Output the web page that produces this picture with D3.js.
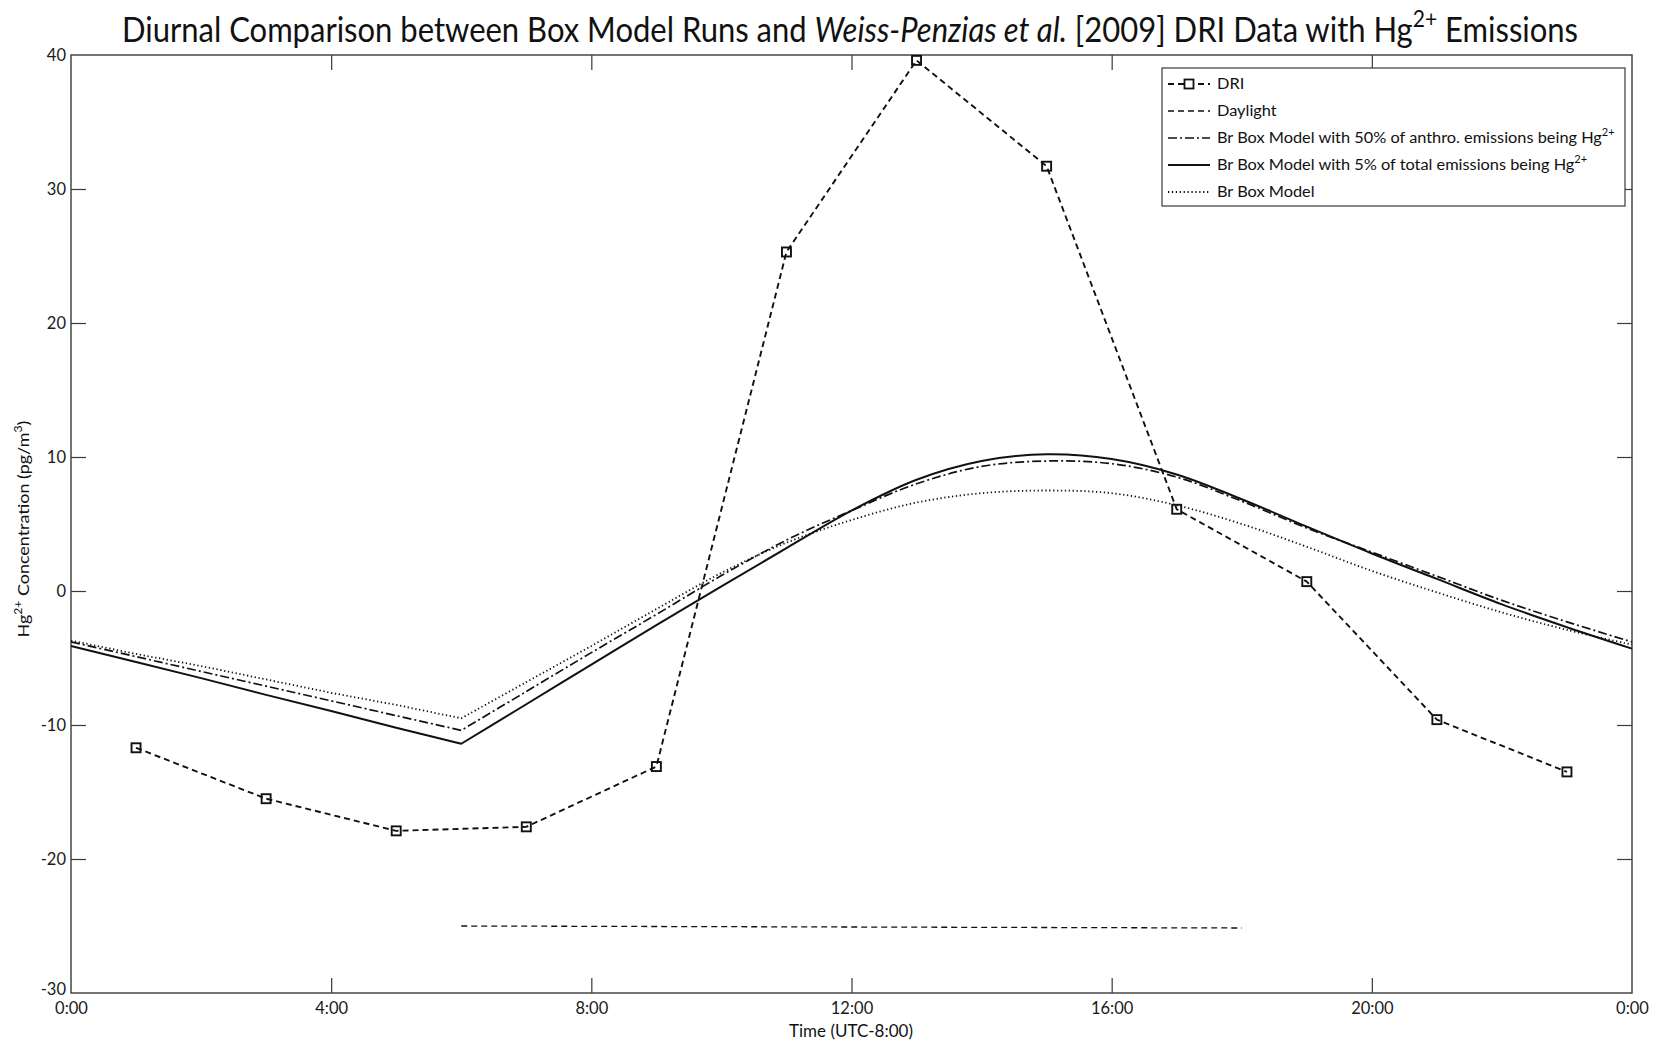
<!DOCTYPE html>
<html>
<head>
<meta charset="utf-8">
<script src="https://cdn.jsdelivr.net/npm/d3@7/dist/d3.min.js"></script>
<style>
  html, body { margin: 0; padding: 0; background: #fff; }
  svg { display: block; }
</style>
</head>
<body>
<svg id="chart" width="1659" height="1045"></svg>
<script>
// ---- data ----
const driHours  = [1, 3, 5, 7, 9, 11, 13, 15, 17, 19, 21, 23];
const driValues = [-11.7, -15.5, -17.9, -17.6, -13.1, 25.3, 39.6, 31.7, 6.1, 0.7, -9.6, -13.5];

const daylightHours  = [6, 18];
const daylightValues = [-25, -25.15];

const modelHours = [0, 1, 2, 3, 4, 5, 6, 7, 8, 9, 10, 11, 12, 13, 14, 15, 16, 17, 18, 19, 20, 21, 22, 23, 24];
const anthro50Values  = [-3.8, -4.9, -6.0, -7.1, -8.2, -9.3, -10.4, -7.5, -4.6, -1.75, 1.15, 3.8, 6.0, 8.0, 9.3, 9.7, 9.5, 8.5, 6.7, 4.7, 2.9, 1.1, -0.7, -2.3, -3.8];
const total5Values    = [-4.1, -5.3, -6.5, -7.75, -8.95, -10.2, -11.4, -8.45, -5.5, -2.55, 0.35, 3.2, 6.0, 8.3, 9.7, 10.2, 9.85, 8.7, 6.85, 4.8, 2.8, 0.9, -1.0, -2.7, -4.3];
const baseModelValues = [-3.7, -4.7, -5.6, -6.6, -7.6, -8.5, -9.5, -6.8, -4.1, -1.35, 1.35, 3.6, 5.3, 6.6, 7.3, 7.5, 7.3, 6.4, 5.0, 3.3, 1.5, -0.1, -1.6, -2.9, -4.0];

const xTickValues = [0, 4, 8, 12, 16, 20, 24];
const xTickLabels = ["0:00", "4:00", "8:00", "12:00", "16:00", "20:00", "0:00"];
const yTickValues = [-30, -20, -10, 0, 10, 20, 30, 40];

const titleParts = [
  { t: "Diurnal Comparison between Box Model Runs and " },
  { t: "Weiss-Penzias et al.", italic: true },
  { t: " [2009] DRI Data with Hg" },
  { t: "2+", sup: true },
  { t: " Emissions" }
];
const yTitleParts = [
  { t: "Hg" }, { t: "2+", sup: true }, { t: " Concentration (pg/m" }, { t: "3", sup: true }, { t: ")" }
];
const xTitle = "Time (UTC-8:00)";

const legendEntries = [
  { key: "dri",      parts: [{ t: "DRI" }] },
  { key: "daylight", parts: [{ t: "Daylight" }] },
  { key: "anthro50", parts: [{ t: "Br Box Model with 50% of anthro. emissions being Hg" }, { t: "2+", sup: true }] },
  { key: "total5",   parts: [{ t: "Br Box Model with 5% of total emissions being Hg" }, { t: "2+", sup: true }] },
  { key: "base",     parts: [{ t: "Br Box Model" }] }
];

// ---- styles ----
const FONT = "Lato, 'Open Sans', 'DejaVu Sans', sans-serif";
const styles = {
  dri:      { width: 1.9, dash: "6,4" },
  daylight: { width: 1.3, dash: "6,4" },
  anthro50: { width: 1.7, dash: "9,3,2,3" },
  total5:   { width: 2.0, dash: null },
  base:     { width: 1.8, dash: "1.3,2.6" }
};

// ---- layout ----
const plot = { left: 71, right: 1632, top: 55, bottom: 993 };
const svg = d3.select("#chart");

const x = d3.scaleLinear().domain([0, 24]).range([plot.left, plot.right]);
const y = d3.scaleLinear().domain([-30, 40]).range([plot.bottom, plot.top]);

// rich text with italic / superscript runs
function richText(textSel, parts, size) {
  let raised = false;
  parts.forEach(p => {
    const ts = textSel.append("tspan").text(p.t);
    if (p.italic) ts.attr("font-style", "italic");
    if (p.sup) {
      ts.attr("font-size", size * 0.68).attr("dy", -size * 0.45);
      raised = true;
    } else if (raised) {
      ts.attr("dy", size * 0.45);
      raised = false;
    }
  });
  return textSel;
}

// ---- frame & axes ----
const axisColor = "#3a3a3a";
const tickLen = 15;
const tickFont = 16.5;

const gx = svg.append("g").attr("transform", `translate(0,${plot.bottom})`)
  .call(d3.axisBottom(x).tickValues(xTickValues)
    .tickFormat((d, i) => xTickLabels[i]).tickSizeInner(-tickLen).tickSizeOuter(0).tickPadding(9));
const gxTop = svg.append("g").attr("transform", `translate(0,${plot.top})`)
  .call(d3.axisTop(x).tickValues(xTickValues).tickFormat("").tickSizeInner(-tickLen).tickSizeOuter(0));
const gy = svg.append("g").attr("transform", `translate(${plot.left},0)`)
  .call(d3.axisLeft(y).tickValues(yTickValues).tickFormat(d => String(d))
    .tickSizeInner(-tickLen).tickSizeOuter(0).tickPadding(5));
const gyRight = svg.append("g").attr("transform", `translate(${plot.right},0)`)
  .call(d3.axisRight(y).tickValues(yTickValues).tickFormat("").tickSizeInner(-tickLen).tickSizeOuter(0));

[gx, gxTop, gy, gyRight].forEach(g => {
  g.select(".domain").remove();
  g.selectAll(".tick line").attr("stroke", axisColor).attr("stroke-width", 1.2);
  g.selectAll(".tick text").attr("fill", "#1a1a1a").attr("font-family", FONT).attr("font-size", tickFont);
});
// end ticks sit on the frame itself
gx.selectAll(".tick").filter(d => d === 0 || d === 24).select("line").remove();
gxTop.selectAll(".tick").filter(d => d === 0 || d === 24).select("line").remove();
gy.selectAll(".tick").filter(d => d === -30 || d === 40).select("line").remove();
gyRight.selectAll(".tick").filter(d => d === -30 || d === 40).select("line").remove();
// -30 label sits a little above the corner
gy.selectAll(".tick").filter(d => d === -30).select("text").attr("dy", "0.1em");

svg.append("rect")
  .attr("x", plot.left).attr("y", plot.top)
  .attr("width", plot.right - plot.left).attr("height", plot.bottom - plot.top)
  .attr("fill", "none").attr("stroke", axisColor).attr("stroke-width", 1.4);

// ---- series ----
const series = svg.append("g");

function styled(path, key) {
  const s = styles[key];
  path.attr("fill", "none").attr("stroke", "#111").attr("stroke-width", s.width)
    .attr("stroke-linejoin", "round");
  if (s.dash) path.attr("stroke-dasharray", s.dash);
  return path;
}

// model curves: straight night-time decline, smooth daytime curve
function drawModel(values, key) {
  const pts = modelHours.map((h, i) => [h, values[i]]);
  const night = pts.slice(0, 7);
  const day = pts.slice(6);
  const lin = d3.line().x(d => x(d[0])).y(d => y(d[1]));
  const smooth = d3.line().x(d => x(d[0])).y(d => y(d[1])).curve(d3.curveCatmullRom.alpha(0.5));
  const merged = lin(night) + smooth(day).replace(/^M[^C L]+/, "");
  styled(series.append("path").attr("d", merged), key);
}
drawModel(baseModelValues, "base");
drawModel(anthro50Values, "anthro50");
drawModel(total5Values, "total5");

// daylight bar
styled(series.append("path")
  .attr("d", d3.line().x(d => x(d[0])).y(d => y(d[1]))(daylightHours.map((h, i) => [h, daylightValues[i]]))), "daylight");

// DRI observations
const driPts = driHours.map((h, i) => [h, driValues[i]]);
styled(series.append("path").attr("d", d3.line().x(d => x(d[0])).y(d => y(d[1]))(driPts)), "dri");
const sq = 9;
series.selectAll("rect.dri").data(driPts).join("rect")
  .attr("class", "dri")
  .attr("x", d => x(d[0]) - sq / 2).attr("y", d => y(d[1]) - sq / 2)
  .attr("width", sq).attr("height", sq)
  .attr("fill", "none").attr("stroke", "#111").attr("stroke-width", 1.9);

// ---- legend ----
const lg = svg.append("g");
const box = { x: 1162, y: 68, w: 463, h: 138 };
lg.append("rect").attr("x", box.x).attr("y", box.y).attr("width", box.w).attr("height", box.h)
  .attr("fill", "#fff").attr("stroke", axisColor).attr("stroke-width", 1.2);
const rowY = [84, 111, 138, 165, 192];
const legendFont = 16;
const legendTexts = [];
legendEntries.forEach((e, i) => {
  const yy = rowY[i];
  const p = lg.append("path").attr("d", `M${1168},${yy}H${1210}`);
  styled(p, e.key);
  if (e.key === "dri") {
    lg.append("rect").attr("x", 1189 - 4.5).attr("y", yy - 4.5).attr("width", 9).attr("height", 9)
      .attr("fill", "#fff").attr("stroke", "#111").attr("stroke-width", 1.8);
  }
  const g = lg.append("g").attr("transform", `translate(1217,${yy + 5})`);
  const t = g.append("text").attr("x", 0).attr("y", 0)
    .attr("font-family", FONT).attr("font-size", legendFont).attr("fill", "#111");
  richText(t, e.parts, legendFont);
  legendTexts.push({ g, t, yy });
});
{
  // fit the longest entry so it ends just inside the box edge
  const widest = d3.max(legendTexts, d => d.t.node().getBBox().width);
  const s = 398 / widest;
  legendTexts.forEach(d => d.g.attr("transform", `translate(1217,${d.yy + 5}) scale(${s},1)`));
}

// ---- titles ----
const titleSize = 34;
const titleG = svg.append("g");
const title = titleG.append("text").attr("x", 0).attr("y", 0)
  .attr("text-anchor", "start").attr("font-family", FONT).attr("font-size", titleSize).attr("fill", "#111");
richText(title, titleParts, titleSize);
{
  const bb = title.node().getBBox();
  const sx = 1457 / bb.width;
  titleG.attr("transform", `translate(${122 - bb.x * sx},42) scale(${sx},1)`);
}

const yTitleSize = 16;
const yTitleG = svg.append("g");
const yTitle = yTitleG.append("text").attr("x", 0).attr("y", 0)
  .attr("text-anchor", "start").attr("font-family", FONT).attr("font-size", yTitleSize).attr("fill", "#111");
richText(yTitle, yTitleParts, yTitleSize);
{
  const bb = yTitle.node().getBBox();
  const s = 217 / bb.width;
  yTitleG.attr("transform", `translate(29,${529 + 217 / 2}) rotate(-90) scale(${s},1)`);
}

svg.append("text").attr("x", 851).attr("y", 1037).attr("text-anchor", "middle")
  .attr("font-family", FONT).attr("font-size", 17).attr("fill", "#111").text(xTitle);
</script>
</body>
</html>
